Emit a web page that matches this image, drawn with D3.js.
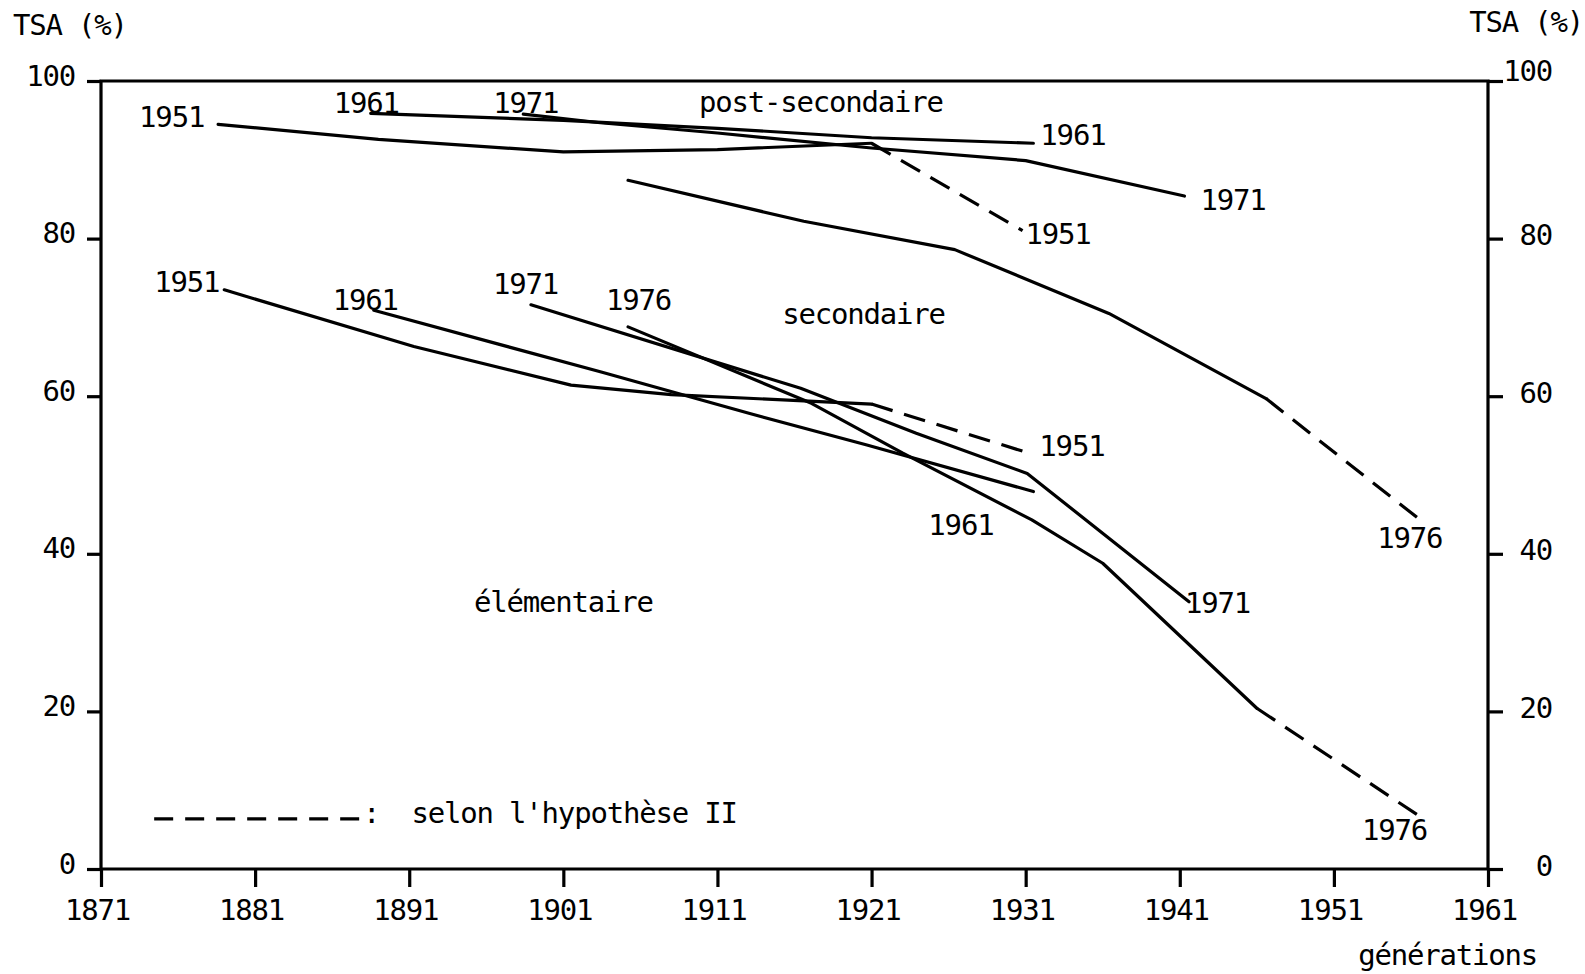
<!DOCTYPE html>
<html><head><meta charset="utf-8">
<script src="https://cdn.jsdelivr.net/npm/d3@7"></script>
<style>
html,body{margin:0;padding:0;background:#fff;}
svg{display:block;}
text{font-family:"DejaVu Sans Mono",monospace;font-size:29px;letter-spacing:-1.2px;fill:#000;}
</style></head><body>
<svg id="chart" width="1585" height="974"></svg>
<script>
// ---------- data ----------
const generationTicks = [1871,1881,1891,1901,1911,1921,1931,1941,1951,1961];
const tsaTicks = [0,20,40,60,80,100];

// upper curves (limit secondaire / post-secondaire), by census year
const secGen1951  = [1878.6, 1889, 1901, 1911, 1921];
const sec1951     = [94.5, 92.6, 91.0, 91.3, 92.1];
const secGen1951H = [1921, 1930.8];
const sec1951H    = [92.1, 81.0];
const secGen1961  = [1888.5, 1901, 1911, 1921, 1931.5];
const sec1961     = [95.9, 95.0, 94.0, 92.8, 92.1];
const secGen1971  = [1898.4, 1903.4, 1911, 1921, 1931, 1941.3];
const sec1971     = [95.8, 94.7, 93.4, 91.5, 89.9, 85.4];
const secGen1976  = [1905.2, 1916.6, 1926.4, 1936.4, 1946.6];
const sec1976     = [87.4, 82.2, 78.6, 70.5, 59.7];
const secGen1976H = [1946.6, 1956.6];
const sec1976H    = [59.7, 44.3];

// lower curves (limit élémentaire / secondaire)
const elemGen1951  = [1879, 1891.3, 1901.5, 1908, 1921];
const elem1951     = [73.5, 66.3, 61.4, 60.2, 59.0];
const elemGen1951H = [1921, 1931.5];
const elem1951H    = [59.0, 52.6];
const elemGen1961  = [1888.7, 1903.4, 1913.1, 1920.7, 1931.5];
const elem1961     = [70.9, 63.1, 57.8, 53.8, 47.9];
const elemGen1971  = [1898.9, 1916.4, 1923.9, 1931.1, 1941.6];
const elem1971     = [71.6, 61.0, 55.3, 50.2, 33.9];
const elemGen1976  = [1905.2, 1917.1, 1923, 1931.4, 1936, 1946];
const elem1976     = [68.8, 59.1, 52.8, 44.3, 38.8, 20.4];
const elemGen1976H = [1946, 1956.4];
const elem1976H    = [20.4, 6.9];

// ---------- chart ----------
const ink = "#000";
const svg = d3.select("#chart");
const x = d3.scaleLinear().domain([1871,1961]).range([101,1488]);
const y = d3.scaleLinear().domain([0,100]).range([869,81]);

const zip = (g,v) => g.map((d,i)=>[d, v[i]]);
const series = [
  {id:"s1951",  pts:zip(secGen1951, sec1951), dashed:false},
  {id:"s1951H", pts:zip(secGen1951H, sec1951H), dashed:true},
  {id:"s1961",  pts:zip(secGen1961, sec1961), dashed:false},
  {id:"s1971",  pts:zip(secGen1971, sec1971), dashed:false},
  {id:"s1976",  pts:zip(secGen1976, sec1976), dashed:false},
  {id:"s1976H", pts:zip(secGen1976H, sec1976H), dashed:true},
  {id:"e1951",  pts:zip(elemGen1951, elem1951), dashed:false},
  {id:"e1951H", pts:zip(elemGen1951H, elem1951H), dashed:true},
  {id:"e1961",  pts:zip(elemGen1961, elem1961), dashed:false},
  {id:"e1971",  pts:zip(elemGen1971, elem1971), dashed:false},
  {id:"e1976",  pts:zip(elemGen1976, elem1976), dashed:false},
  {id:"e1976H", pts:zip(elemGen1976H, elem1976H), dashed:true}
];
const byId = Object.fromEntries(series.map(s=>[s.id,s]));

// frame
svg.append("path")
  .attr("d", `M${x(1871)},${y(100)}H${x(1961)}V${y(0)}H${x(1871)}Z`)
  .attr("fill","none").attr("stroke",ink).attr("stroke-width",3.2);

// bottom axis
const gx = svg.append("g").attr("transform",`translate(0,${y(0)})`)
  .call(d3.axisBottom(x).tickValues(generationTicks).tickSize(18).tickFormat(d3.format("d")));
gx.select(".domain").remove();
gx.selectAll(".tick line").attr("stroke",ink).attr("stroke-width",3.2);
gx.selectAll(".tick text").attr("y",51).attr("dy",0).attr("dx",-4);

// left axis
const gl = svg.append("g").attr("transform",`translate(${x(1871)},0)`)
  .call(d3.axisLeft(y).tickValues(tsaTicks).tickSize(14));
gl.select(".domain").remove();
gl.selectAll(".tick line").attr("stroke",ink).attr("stroke-width",3.2);
gl.selectAll(".tick text").attr("x",-26).attr("dy",0).attr("y",4).attr("text-anchor","end");

// right axis
const gr = svg.append("g").attr("transform",`translate(${x(1961)},0)`)
  .call(d3.axisRight(y).tickValues(tsaTicks).tickSize(15));
gr.select(".domain").remove();
gr.selectAll(".tick line").attr("stroke",ink).attr("stroke-width",3.2);
gr.selectAll(".tick text").attr("x",64).attr("dy",0).attr("y",d=>d===100?-1:6).attr("text-anchor","end");

// axis titles
svg.append("text").attr("x",13).attr("y",35).text("TSA (%)");
svg.append("text").attr("x",1583).attr("y",32).attr("text-anchor","end").text("TSA (%)");
svg.append("text").attr("x",1537).attr("y",965).attr("text-anchor","end").text("générations");

// curves
const line = d3.line().x(d=>x(d[0])).y(d=>y(d[1]));
svg.append("g").selectAll("path").data(series).join("path")
  .attr("d", d=>line(d.pts))
  .attr("fill","none").attr("stroke",ink).attr("stroke-width",3.2)
  .attr("stroke-linecap", d=>d.dashed ? "butt" : "round")
  .attr("stroke-linejoin","round")
  .attr("stroke-dasharray", d=>d.dashed ? "22,12" : null);

// curve labels (anchored to the curve ends)
const curveLabels = [
  {text:"1951", s:"s1951",  end:0,  dx:-79, dy:3},
  {text:"1961", s:"s1961",  end:0,  dx:-37, dy:0},
  {text:"1971", s:"s1971",  end:0,  dx:-30, dy:-1},
  {text:"1961", s:"s1961",  end:-1, dx:7,   dy:2},
  {text:"1971", s:"s1971",  end:-1, dx:16,  dy:14},
  {text:"1951", s:"s1951H", end:-1, dx:3,   dy:13},
  {text:"1976", s:"s1976H", end:-1, dx:-43, dy:28},
  {text:"1951", s:"e1951",  end:0,  dx:-70, dy:2},
  {text:"1961", s:"e1961",  end:0,  dx:-41, dy:0},
  {text:"1971", s:"e1971",  end:0,  dx:-38, dy:-11},
  {text:"1976", s:"e1976",  end:0,  dx:-22, dy:-17},
  {text:"1951", s:"e1951H", end:-1, dx:6,   dy:1},
  {text:"1961", s:"e1961",  end:-1, dx:-105,dy:43},
  {text:"1971", s:"e1971",  end:-1, dx:-4,  dy:11},
  {text:"1976", s:"e1976H", end:-1, dx:-55, dy:25}
];
svg.append("g").selectAll("text").data(curveLabels).join("text")
  .attr("x", d=>{const p=byId[d.s].pts.at(d.end); return x(p[0])+d.dx;})
  .attr("y", d=>{const p=byId[d.s].pts.at(d.end); return y(p[1])+d.dy;})
  .text(d=>d.text);

// region labels (in data units)
const regionLabels = [
  {text:"post-secondaire", gen:1909.8, val:96.1},
  {text:"secondaire",      gen:1915.2, val:69.2},
  {text:"élémentaire",     gen:1895.2, val:32.6}
];
svg.append("g").selectAll("text").data(regionLabels).join("text")
  .attr("x", d=>x(d.gen)).attr("y", d=>y(d.val)).text(d=>d.text);

// legend
const lg = svg.append("g");
lg.append("line").attr("x1",x(1874.45)).attr("x2",x(1888.0)).attr("y1",y(6.35)).attr("y2",y(6.35))
  .attr("stroke",ink).attr("stroke-width",3.2).attr("stroke-dasharray","19,12");
lg.append("text").attr("x",x(1888.0)).attr("y",y(5.84)).text(":");
lg.append("text").attr("x",x(1891.15)).attr("y",y(5.84)).text("selon l'hypothèse II");
</script>
</body></html>
